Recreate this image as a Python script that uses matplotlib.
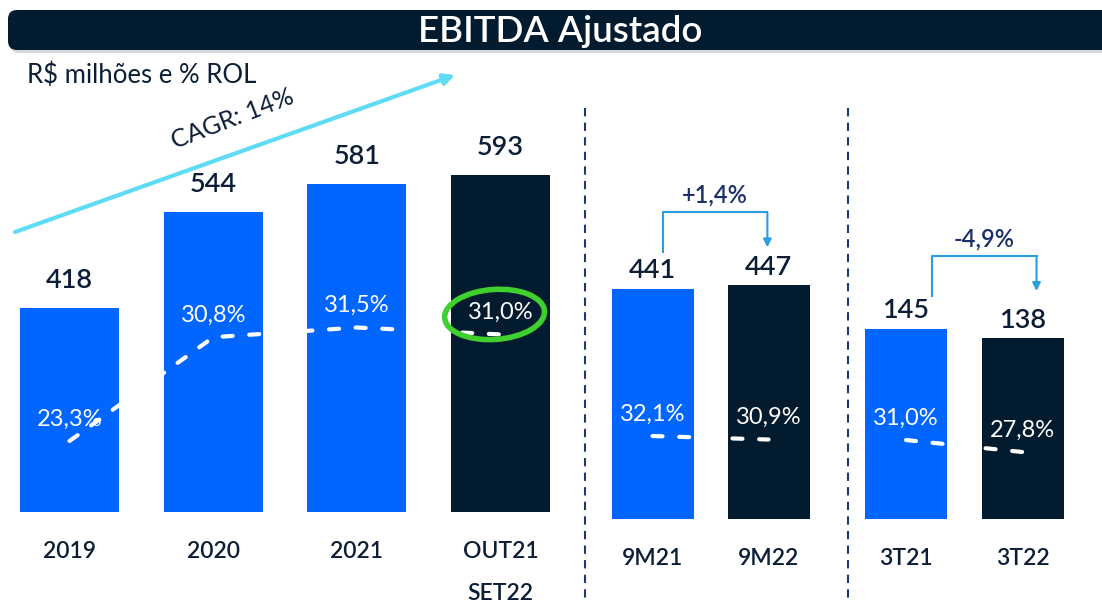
import matplotlib.pyplot as plt
from matplotlib.patches import FancyBboxPatch, Ellipse

plt.rcParams['font.family'] = ['Lato', 'DejaVu Sans']

# dados
anos = ['2019', '2020', '2021', 'OUT21\nSET22']
ebitda_anos = [418, 544, 581, 593]
margem_anos = [23.3, 30.8, 31.5, 31.0]

periodos_9m = ['9M21', '9M22']
ebitda_9m = [441, 447]
margem_9m = [32.1, 30.9]
var_9m = '+1,4%'

periodos_3t = ['3T21', '3T22']
ebitda_3t = [145, 138]
margem_3t = [31.0, 27.8]
var_3t = '-4,9%'

titulo = 'EBITDA Ajustado'
subtitulo = r'R\$ milhões e % ROL'
cagr = 'CAGR: 14%'

AZUL = '#0066ff'
ESCURO = '#021b2f'
TEXTO = '#0c1d36'
NAVY = '#1b2f6b'
SETA = '#2a9fe0'
CIANO = '#5fdcf5'
VERDE = '#3fcf2f'

W, H = 1102, 604
fig = plt.figure(figsize=(W / 100, H / 100), dpi=100)


def add_ax(x0, x1, y_top, y_bot):
    return fig.add_axes([x0 / W, (H - y_bot) / H, (x1 - x0) / W, (y_bot - y_top) / H])


def fmt(m):
    return f'{m:.1f}%'.replace('.', ',')


def painel(ax, labels, valores, margens, cores, width, xlim, ylim, ylim_m, off_v, off_m):
    x = list(range(len(labels)))
    ax.bar(x, valores, width=width, color=cores)
    ax.set_xlim(*xlim)
    ax.set_ylim(*ylim)
    ax.set_xticks(x)
    ax.set_xticklabels(labels, fontsize=16.5, color=TEXTO, weight='semibold')
    ax.tick_params(axis='x', length=0, pad=21)
    ax.set_yticks([])
    for s in ax.spines.values():
        s.set_visible(False)
    ax.patch.set_visible(False)
    for i, v in enumerate(valores):
        ax.annotate(str(v), (i, v), xytext=(0, off_v), textcoords='offset pixels',
                    ha='center', va='center', fontsize=19.5, color=TEXTO, weight='semibold')
    ax2 = ax.twinx()
    ax2.set_ylim(*ylim_m)
    ax2.plot(x, margens, color='white', lw=3, dashes=(2.4, 4.0),
             dash_capstyle='round', solid_capstyle='round')
    ax2.axis('off')
    for i, m in enumerate(margens):
        ax2.annotate(fmt(m), (i, m), xytext=(0, off_m), textcoords='offset pixels',
                     ha='center', va='center', fontsize=17, color='white')
    return ax2


def colchete(ax, valores, texto, x0, x1):
    lo, hi = ax.get_ylim()
    k = ax.get_position().height * H / (hi - lo)  # pixels por unidade
    topo = max(valores) + 73 / k
    ax.plot([x0, x0, x1], [topo - 40 / k, topo, topo], color=SETA, lw=1.5)
    ax.annotate('', xy=(x1, topo - 35 / k), xytext=(x1, topo),
                arrowprops=dict(arrowstyle='-|>', color=SETA, lw=1.5,
                                mutation_scale=12, shrinkA=0, shrinkB=0))
    ax.text((x0 + x1) / 2, topo + 17 / k, texto, ha='center', va='center',
            fontsize=17, color=NAVY, weight='semibold')


# painel anual
ax_a = add_ax(0, 575, 100, 512)
ax_a2 = painel(ax_a, anos, ebitda_anos, margem_anos, [AZUL, AZUL, AZUL, ESCURO], 0.69,
               (-0.484, 3.518), (149.6, 691.7), (18.17, 47.94), 28, 22)
ax_a.get_xticklabels()[3].set_linespacing(2.2)

# painel 9M
ax_m = add_ax(585, 848, 100, 518.5)
painel(ax_m, periodos_9m, ebitda_9m, margem_9m, [AZUL, ESCURO], 0.707,
       (-0.582, 1.685), (0, 802.5), (3.85, 147.2), 18, 22)
colchete(ax_m, ebitda_9m, var_9m, 0.09, 0.99)

# painel 3T
ax_t = add_ax(848, 1102, 100, 518.5)
painel(ax_t, periodos_3t, ebitda_3t, margem_3t, [AZUL, ESCURO], 0.704,
       (-0.498, 1.682), (0, 320.2), (10.07, 121.7), 18, 22)
colchete(ax_t, ebitda_3t, var_3t, 0.22, 1.12)

# camada de decoração em pixels
ov = fig.add_axes([0, 0, 1, 1])
ov.set_xlim(0, W)
ov.set_ylim(H, 0)
ov.axis('off')

ov.add_patch(FancyBboxPatch((10, 13), 1110, 40, boxstyle='round,pad=0,rounding_size=9',
                            fc='#b8bec6', ec='none', alpha=0.6))
ov.add_patch(FancyBboxPatch((8, 10), 1110, 40, boxstyle='round,pad=0,rounding_size=9',
                            fc=ESCURO, ec='none'))
ov.text(560, 31, titulo, color='white', fontsize=26.5, ha='center', va='center',
        weight='semibold')
ov.text(27, 75, subtitulo, color=TEXTO, fontsize=18.5, ha='left', va='center')

ov.annotate('', xy=(455, 75), xytext=(15, 232),
            arrowprops=dict(arrowstyle='-|>', color=CIANO, lw=3,
                            mutation_scale=16, shrinkA=0, shrinkB=0))
ov.text(233, 119, cagr, rotation=21, rotation_mode='anchor', ha='center', va='center',
        fontsize=18, color=TEXTO, weight='normal')

for xs in (585, 848):
    ov.plot([xs, xs], [108, 598], color='#1c3a70', lw=1.5, dashes=(4, 3))

# destaque da margem OUT21-SET22
p = ax_a2.transData.transform((3, margem_anos[3]))
cx, cy = ov.transData.inverted().transform(p)
ov.add_patch(Ellipse((cx - 6, cy - 20), 100, 50, angle=-4, fill=False, ec=VERDE, lw=4))

fig.savefig('out.png', dpi=100)
